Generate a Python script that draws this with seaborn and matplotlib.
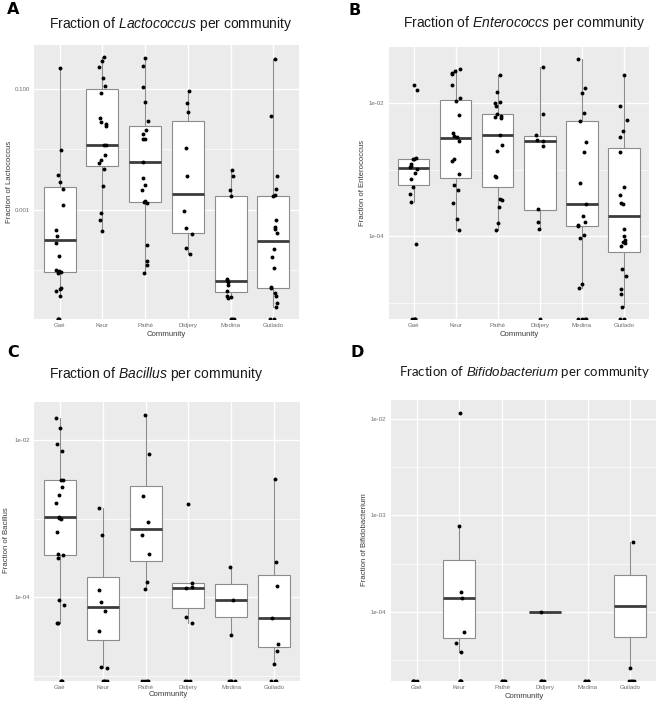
import numpy as np
import pandas as pd
import matplotlib
matplotlib.use("Agg")
import matplotlib.pyplot as plt
import seaborn as sns

# ---------------- data ----------------
communities = ["Gaé", "Keur", "Pathé", "Didjery", "Medina", "Guilado"]

# Panel A: Lactococcus (non-zero fractions per community)
lacto_points = {
    "Gaé": [0.225, 0.0098, 0.0037, 0.0029, 0.0022, 0.0012, 4.6e-4, 3.7e-4, 2.8e-4, 1.7e-4,
            1.0e-4, 9.8e-5, 9.2e-5, 8.9e-5, 5.1e-5, 4.8e-5, 4.5e-5, 3.8e-5],
    "Keur": [0.333, 0.286, 0.234, 0.150, 0.112, 0.087, 0.0336, 0.0281, 0.0264, 0.0244, 0.0119,
             0.0118, 0.0081, 0.0067, 0.0060, 0.0048, 0.0025, 8.8e-4, 6.8e-4, 4.5e-4],
    "Pathé": [0.321, 0.243, 0.109, 0.0618, 0.0292, 0.0210, 0.0178, 0.0147, 0.0146, 0.0063,
              0.00334, 0.00259, 0.00214, 0.00141, 0.00134, 0.00129, 2.6e-4, 1.4e-4, 1.23e-4, 9.0e-5],
    "Didjery": [0.094, 0.058, 0.0417, 0.0104, 0.0036, 9.4e-4, 5.0e-4, 3.9e-4, 2.35e-4, 1.85e-4],
    "Medina": [0.00458, 0.00369, 0.00214, 0.00166, 7.1e-5, 6.8e-5, 6.4e-5, 5.6e-5, 4.5e-5,
               3.7e-5, 3.6e-5, 3.4e-5],
    "Guilado": [0.309, 0.0362, 0.00369, 0.00222, 0.00173, 0.00166, 6.8e-4, 5.1e-4, 4.9e-4, 4.1e-4,
                2.26e-4, 1.65e-4, 1.07e-4, 5.2e-5, 5.1e-5, 4.2e-5, 3.7e-5, 2.9e-5, 2.5e-5],
}
lacto_zeros = [3, 0, 0, 0, 3, 2]
lacto_q1 = [9.3e-5, 5.33e-3, 1.34e-3, 4.11e-4, 4.36e-5, 5.0e-5]
lacto_med = [3.19e-4, 1.20e-2, 6.30e-3, 1.82e-3, 6.53e-5, 3.08e-4]
lacto_q3 = [2.37e-3, 0.100, 2.42e-2, 2.92e-2, 1.66e-3, 1.66e-3]
lacto_lo = [3.8e-5, 4.5e-4, 9.0e-5, 1.85e-4, 3.4e-5, 2.5e-5]
lacto_hi = [0.225, 0.333, 0.321, 0.094, 4.58e-3, 0.309]
lacto_ticks = [0.1, 0.001]
lacto_ticklabels = ["0.100", "0.001"]
lacto_minor = [0.01, 0.0001]

# Panel B: Enterococcus
entero_points = {
    "Gaé": [0.0188, 0.0160, 0.00151, 0.00148, 0.00146, 0.00123, 0.00116, 0.00110, 0.00104,
            8.9e-4, 7.3e-4, 5.6e-4, 4.3e-4, 3.3e-4, 7.6e-5],
    "Keur": [0.0327, 0.0309, 0.0292, 0.0275, 0.0191, 0.0123, 0.0110, 0.00668, 0.00359, 0.00320,
             0.00309, 0.00275, 0.00146, 0.00135, 8.7e-4, 6.0e-4, 5.0e-4, 3.2e-4, 1.84e-4, 1.23e-4],
    "Pathé": [0.0272, 0.0150, 0.0106, 0.0100, 0.00923, 0.00692, 0.00653, 0.00631, 0.00603,
              0.00339, 0.00240, 0.00191, 8.2e-4, 7.9e-4, 3.7e-4, 3.5e-4, 2.75e-4, 1.58e-4, 1.23e-4],
    "Didjery": [0.0359, 0.0070, 0.00339, 0.00285, 0.00275, 0.00229, 2.54e-4, 1.62e-4, 1.27e-4],
    "Medina": [0.0462, 0.0170, 0.0146, 0.00708, 0.00537, 0.00266, 0.00184, 6.3e-4, 3.1e-4,
               2.0e-4, 1.64e-4, 1.46e-4, 1.43e-4, 1.04e-4, 9.4e-5, 1.88e-5, 1.68e-5],
    "Guilado": [0.0266, 0.00923, 0.00569, 0.00389, 0.00316, 0.00186, 5.5e-4, 4.2e-4, 3.2e-4,
                3.1e-4, 1.29e-4, 1.02e-4, 8.9e-5, 8.3e-5, 7.9e-5, 7.1e-5, 3.16e-5, 2.5e-5,
                1.58e-5, 1.33e-5, 8.7e-6],
}
entero_zeros = [4, 0, 0, 1, 4, 2]
entero_q1 = [5.96e-4, 7.50e-4, 5.50e-4, 2.51e-4, 1.45e-4, 5.75e-5]
entero_med = [1.08e-3, 3.05e-3, 3.35e-3, 2.75e-3, 3.05e-4, 2.0e-4]
entero_q3 = [1.46e-3, 1.12e-2, 6.84e-3, 3.27e-3, 5.37e-3, 2.11e-3]
entero_lo = [3.3e-4, 1.23e-4, 1.23e-4, 1.27e-4, 1.68e-5, 8.7e-6]
entero_hi = [1.51e-3, 3.27e-2, 2.72e-2, 3.59e-2, 4.62e-2, 2.66e-2]
entero_ticks = [1e-2, 1e-4]
entero_ticklabels = ["1e-02", "1e-04"]
entero_minor = [1e-3, 1e-5]

# Panel C: Bacillus
bacil_points = {
    "Gaé": [0.0187, 0.0142, 0.00873, 0.00725, 0.00313, 0.00310, 0.00255, 0.00202, 0.00158,
            0.00106, 0.00103, 0.00100, 6.7e-4, 3.6e-4, 3.45e-4, 3.2e-4, 9.2e-5, 7.9e-5, 4.8e-5, 4.7e-5],
    "Keur": [0.00138, 6.2e-4, 1.23e-4, 8.8e-5, 6.7e-5, 3.8e-5, 1.30e-5, 1.26e-5],
    "Pathé": [0.0208, 0.00658, 0.00196, 8.98e-4, 6.2e-4, 3.56e-4, 1.57e-4, 1.28e-4],
    "Didjery": [0.00153, 1.51e-4, 1.34e-4, 1.30e-4, 5.7e-5, 4.8e-5],
    "Medina": [2.45e-4, 9.4e-5, 3.3e-5],
    "Guilado": [0.00316, 2.84e-4, 1.39e-4, 5.5e-5, 2.58e-5, 2.10e-5, 1.45e-5],
}
bacil_zeros = [3, 4, 4, 3, 4, 3]
bacil_q1 = [3.42e-4, 2.84e-5, 2.90e-4, 7.31e-5, 5.62e-5, 2.34e-5]
bacil_med = [1.06e-3, 7.60e-5, 7.46e-4, 1.30e-4, 9.33e-5, 5.41e-5]
bacil_q3 = [3.10e-3, 1.83e-4, 2.60e-3, 1.51e-4, 1.49e-4, 1.94e-4]
bacil_lo = [4.7e-5, 1.26e-5, 1.28e-4, 4.8e-5, 3.3e-5, 1.45e-5]
bacil_hi = [1.87e-2, 1.38e-3, 2.08e-2, 1.51e-4, 2.45e-4, 3.16e-3]
bacil_ticks = [1e-2, 1e-4]
bacil_ticklabels = ["1e-02", "1e-04"]
bacil_minor = [1e-3, 1e-5]

# Panel D: Bifidobacterium (None = no non-zero values)
bifido_points = {
    "Gaé": [],
    "Keur": [0.01164, 7.7e-4, 1.6e-4, 1.39e-4, 6.2e-5, 4.8e-5, 3.8e-5],
    "Pathé": [],
    "Didjery": [9.85e-5],
    "Medina": [],
    "Guilado": [5.33e-4, 2.6e-5],
}
bifido_zeros = [4, 4, 4, 4, 4, 4]
bifido_q1 = [None, 5.3e-5, None, 9.85e-5, None, 5.42e-5]
bifido_med = [None, 1.38e-4, None, 9.85e-5, None, 1.15e-4]
bifido_q3 = [None, 3.48e-4, None, 9.85e-5, None, 2.43e-4]
bifido_lo = [None, 3.8e-5, None, 9.85e-5, None, 2.6e-5]
bifido_hi = [None, 7.7e-4, None, 9.85e-5, None, 5.33e-4]
bifido_ticks = [1e-2, 1e-3, 1e-4]
bifido_ticklabels = ["1e-02", "1e-03", "1e-04"]
bifido_minor = [3.16e-3, 3.16e-4, 3.16e-5]

# ---------------- style ----------------
sns.set_style("darkgrid")
plt.rcParams["font.family"] = ["Liberation Sans", "DejaVu Sans"]
plt.rcParams["mathtext.fontset"] = "custom"
plt.rcParams["mathtext.rm"] = "Liberation Sans"
plt.rcParams["mathtext.it"] = "Liberation Sans:italic"

W, H = 666, 705
fig = plt.figure(figsize=(W / 100, H / 100), dpi=100)
fig.patch.set_facecolor("white")


def rect(x0, y0, x1, y1):
    return [x0 / W, 1 - y1 / H, (x1 - x0) / W, (y1 - y0) / H]


def ftext(x, y, s, **kw):
    return fig.text(x / W, 1 - y / H, s, **kw)


def draw_panel(ax, points, zeros, q1, med, q3, lo, hi, ticks, ticklabels, minor):
    nonzero = np.concatenate([np.asarray(points[c], float) for c in communities if len(points[c])])
    lg = np.log10(nonzero)
    span = lg.max() - lg.min()
    ymin = 10 ** (lg.min() - 0.05 * span)
    ymax = 10 ** (lg.max() + 0.05 * span)

    rows = []
    for c, nz in zip(communities, zeros):
        for v in points[c]:
            rows.append((c, v))
        for _ in range(nz):
            rows.append((c, 0.0))
    df = pd.DataFrame(rows, columns=["Community", "Fraction"])
    # zero values sit at -Inf on the log axis -> drawn at the panel bottom edge
    df["Shown"] = df["Fraction"].where(df["Fraction"] > 0, ymin)

    ax.set_yscale("log")
    ax.set_facecolor("#EBEBEB")

    stats, pos = [], []
    for i in range(len(communities)):
        if med[i] is None:
            continue
        stats.append(dict(q1=q1[i], med=med[i], q3=q3[i], whislo=lo[i], whishi=hi[i], fliers=[]))
        pos.append(i)
    ax.bxp(stats, positions=pos, widths=0.75, showfliers=False, showcaps=False,
           patch_artist=True, manage_ticks=False,
           boxprops=dict(facecolor="white", edgecolor="#8c8c8c", linewidth=0.8, zorder=2),
           whiskerprops=dict(color="#8c8c8c", linewidth=0.8, zorder=2),
           medianprops=dict(color="#3c3c3c", linewidth=2.0, zorder=3))

    sns.stripplot(data=df, x="Community", y="Shown", order=communities, jitter=0.1,
                  color="black", size=2.8, linewidth=0, ax=ax, zorder=4)

    ax.set_xlim(-0.6, len(communities) - 0.4)
    ax.set_ylim(ymin, ymax)
    ax.set_yticks(ticks)
    ax.set_yticklabels(ticklabels)
    ax.set_yticks(minor, minor=True)
    ax.set_yticklabels([""] * len(minor), minor=True)
    ax.set_xticks(range(len(communities)))
    ax.set_xticklabels(communities)
    ax.set_axisbelow(True)
    ax.grid(True, which="major", color="white", linewidth=1.0)
    ax.yaxis.grid(True, which="minor", color="white", linewidth=0.5)
    ax.xaxis.grid(True, which="major", color="white", linewidth=1.0)
    ax.tick_params(which="major", length=2, width=0.5, color="#555555",
                   labelsize=4.4, labelcolor="#6e6e6e", pad=1.2)
    ax.tick_params(which="minor", length=0)
    for s in ax.spines.values():
        s.set_visible(False)
    ax.set_xlabel("")
    ax.set_ylabel("")


panels = [
    dict(r=(34, 45, 299, 319), pts=lacto_points, z=lacto_zeros, q1=lacto_q1, med=lacto_med,
         q3=lacto_q3, lo=lacto_lo, hi=lacto_hi, t=lacto_ticks, tl=lacto_ticklabels, mn=lacto_minor),
    dict(r=(388.5, 47, 649, 319), pts=entero_points, z=entero_zeros, q1=entero_q1, med=entero_med,
         q3=entero_q3, lo=entero_lo, hi=entero_hi, t=entero_ticks, tl=entero_ticklabels, mn=entero_minor),
    dict(r=(34.3, 402, 299.7, 681), pts=bacil_points, z=bacil_zeros, q1=bacil_q1, med=bacil_med,
         q3=bacil_q3, lo=bacil_lo, hi=bacil_hi, t=bacil_ticks, tl=bacil_ticklabels, mn=bacil_minor),
    dict(r=(391, 400, 656, 681), pts=bifido_points, z=bifido_zeros, q1=bifido_q1, med=bifido_med,
         q3=bifido_q3, lo=bifido_lo, hi=bifido_hi, t=bifido_ticks, tl=bifido_ticklabels, mn=bifido_minor),
]

np.random.seed(3)
for p in panels:
    ax = fig.add_axes(rect(*p["r"]))
    draw_panel(ax, p["pts"], p["z"], p["q1"], p["med"], p["q3"], p["lo"], p["hi"],
               p["t"], p["tl"], p["mn"])

# panel letters
for (x, y, s) in [(7, 13.5, "A"), (349, 15, "B"), (7, 357, "C"), (351, 357, "D")]:
    ftext(x, y, s, fontsize=11.5, fontweight="heavy", family="DejaVu Sans",
          va="baseline", ha="left", color="black")

# titles
ftext(171, 28.3, r"Fraction of $\mathit{Lactococcus}$ per community", fontsize=10,
      ha="center", va="baseline", color="#1a1a1a")
ftext(524.5, 27.3, r"Fraction of $\mathit{Enterococcs}$ per community", fontsize=10,
      ha="center", va="baseline", color="#1a1a1a")
ftext(156, 378.3, r"Fraction of $\mathit{Bacillus}$ per community", fontsize=10,
      ha="center", va="baseline", color="#1a1a1a")
ftext(525, 376, r"Fraction of $\mathit{Bifidobacterium}$ per community", fontsize=9.5,
      ha="center", va="baseline", color="#1a1a1a", family=["Lato", "DejaVu Sans"])

# axis titles
lab = dict(fontsize=5.6, color="#3a3a3a", ha="center", va="center")
ftext(166.5, 334, "Community", **lab)
ftext(519, 335, "Community", **lab)
ftext(168, 695, "Community", **lab)
ftext(524.5, 697, "Community", **lab)
ftext(10, 182, "Fraction of Lactococcus", rotation=90, **lab)
ftext(363, 183, "Fraction of Enterococcus", rotation=90, **lab)
ftext(6.5, 540, "Fraction of Bacillus", rotation=90, **lab)
ftext(364, 540, "Fraction of Bifidobacterium", rotation=90, **lab)

fig.savefig("out.png", dpi=100, facecolor="white")
